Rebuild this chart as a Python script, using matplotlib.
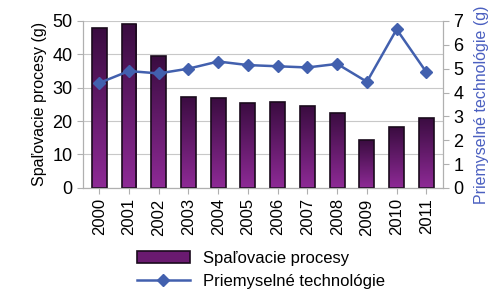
import numpy as np
import matplotlib.pyplot as plt
from matplotlib.lines import Line2D
from matplotlib.patches import Patch
from matplotlib.colors import LinearSegmentedColormap

plt.rcParams['font.family'] = ['Liberation Sans', 'DejaVu Sans']

# data
years = ['2000', '2001', '2002', '2003', '2004', '2005',
         '2006', '2007', '2008', '2009', '2010', '2011']
spal = [48.0, 49.0, 39.5, 27.3, 26.8, 25.5, 25.7, 24.5, 22.5, 14.3, 18.2, 21.0]
priem = [4.4, 4.9, 4.8, 5.0, 5.3, 5.15, 5.1, 5.05, 5.2, 4.45, 6.65, 4.85]

fig = plt.figure(figsize=(5.02, 3.04), dpi=100)
ax = fig.add_axes([0.165, 0.382, 0.717, 0.549])
x = np.arange(len(years))

# bars with vertical gradient
bars = ax.bar(x, spal, width=0.5, color='none', edgecolor='#1a0a1c', linewidth=1.2, zorder=3)
grad = np.linspace(0, 1, 256).reshape(-1, 1)
cmap = LinearSegmentedColormap.from_list('pur', ['#8e2a96', '#3a0c40'])
for b in bars:
    bx, by = b.get_x(), b.get_y()
    w, h = b.get_width(), b.get_height()
    im = ax.imshow(grad, cmap=cmap, aspect='auto', origin='lower',
                   extent=[bx, bx + w, by, by + h], zorder=2)
    im.set_clip_path(b)

ax.set_xlim(-0.55, len(years) - 0.45)
ax.set_ylim(0, 50)
ax.set_yticks(range(0, 51, 10))
ax.grid(axis='y', color='#c8c8c8', linewidth=0.8, zorder=0)
ax.set_xticks(x)
ax.set_xticklabels(years, rotation=90, fontsize=12)
ax.tick_params(axis='y', labelsize=13, length=4, color='#b0b0b0')
ax.tick_params(axis='x', length=4, color='#b0b0b0')
ax.set_ylabel('Spaľovacie procesy (g)', fontsize=11.5)
for s in ax.spines.values():
    s.set_color('#b0b0b0')
ax.spines['top'].set_visible(False)

ax2 = ax.twinx()
ax2.plot(x, priem, color='#4260ae', marker='D', markersize=6, linewidth=1.8, zorder=4)
ax2.set_ylim(0, 7)
ax2.set_yticks(range(0, 8))
ax2.tick_params(axis='y', labelsize=13, length=4, color='#b0b0b0')
ax2.set_ylabel('Priemyselné technológie (g)', fontsize=11.5, color='#4a5fc0', labelpad=8)
for s in ax2.spines.values():
    s.set_color('#b0b0b0')
ax2.spines['top'].set_visible(False)

handles = [Patch(facecolor='#6a1a70', edgecolor='#1a0a1c', linewidth=1.2),
           Line2D([], [], color='#4260ae', marker='D', markersize=6, linewidth=1.8)]
fig.legend(handles, ['Spaľovacie procesy', 'Priemyselné technológie'],
           loc='lower center', bbox_to_anchor=(0.52, 0.0), frameon=False,
           fontsize=12, handlelength=3.2, labelspacing=0.5)

fig.savefig('out.png', dpi=100)
